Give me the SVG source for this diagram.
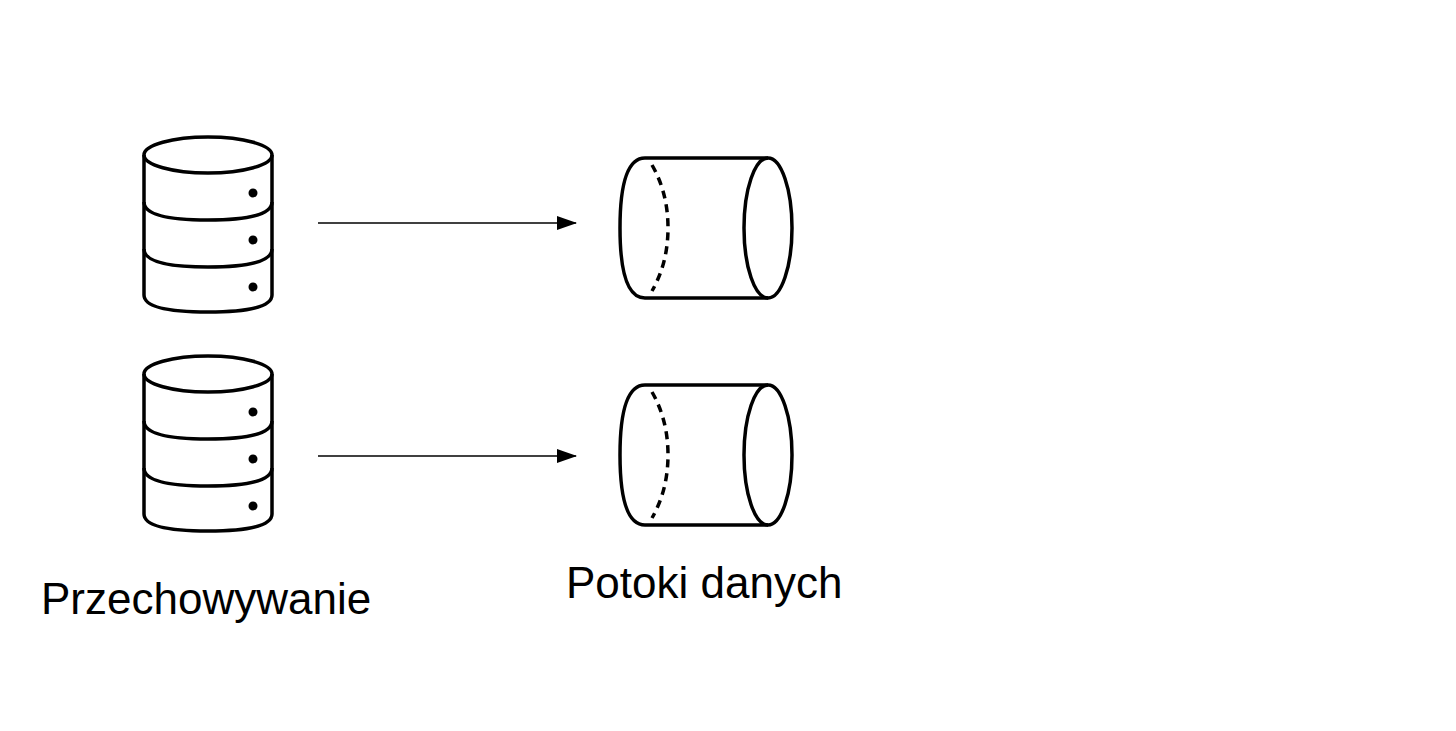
<svg xmlns="http://www.w3.org/2000/svg" width="1456" height="731" viewBox="0 0 1456 731">
<defs>
<style>
.s{fill:none;stroke:#000;stroke-width:3.5;stroke-linejoin:round}
.c{stroke:#000;stroke-width:1.6}
.t{font-family:"Liberation Sans",Arial,sans-serif;font-size:44px;fill:#000}
</style>
<marker id="a" markerWidth="20" markerHeight="14" refX="19" refY="7" orient="auto" markerUnits="userSpaceOnUse"><path d="M0,0 L20,7 L0,14 Z" fill="#000"/></marker>
<g id="db">
<ellipse class="s" cx="0" cy="0" rx="64" ry="18"/>
<path class="s" d="M-64,0 V140 Q-64,157 0,157 Q64,157 64,140 V0"/>
<path class="s" d="M-64,47 Q-64,65 0,65 Q64,65 64,47"/>
<path class="s" d="M-64,94 Q-64,112 0,112 Q64,112 64,94"/>
<circle cx="45" cy="38" r="4.5"/><circle cx="45" cy="85" r="4.5"/><circle cx="45" cy="132" r="4.5"/>
</g>
<g id="cy">
<path class="s" d="M0,-70 H123 M0,70 H123 M0,-70 Q-25,-70 -25,0 Q-25,70 0,70"/>
<ellipse class="s" cx="123" cy="0" rx="24" ry="70"/>
<path class="s" stroke-dasharray="8,6" d="M7,-63 Q23,-35 23,0 Q23,35 7,63"/>
</g>
</defs>
<rect width="1456" height="731" fill="#fff"/>
<g id="db1"><use href="#db" x="208" y="155"/></g>
<g id="db2"><use href="#db" x="208" y="374"/></g>
<g id="p1"><use href="#cy" x="645" y="228"/></g>
<g id="p2"><use href="#cy" x="645" y="455"/></g>
<g id="connectors">
<line class="c" x1="318" y1="223" x2="576" y2="223" marker-end="url(#a)"/>
<line class="c" x1="318" y1="456" x2="576" y2="456" marker-end="url(#a)"/>
</g>
<text class="t" x="41" y="614">Przechowywanie</text>
<text class="t" x="566" y="598">Potoki danych</text>
</svg>
